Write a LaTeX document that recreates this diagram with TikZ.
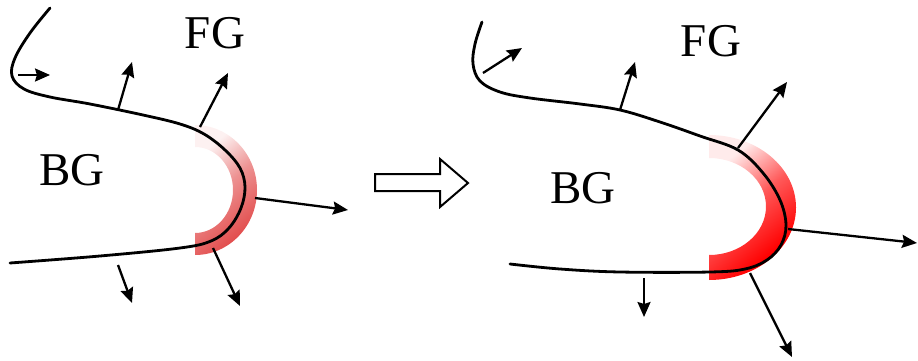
\documentclass[tikz,border=0pt]{standalone}
\usepackage{fontspec}
\setmainfont{Liberation Serif}
\usetikzlibrary{arrows.meta}
\definecolor{leftred}{RGB}{226,78,78}
\definecolor{rightred}{RGB}{255,0,0}
\pgfdeclareverticalshading{lband}{100bp}{color(0bp)=(leftred); color(28bp)=(leftred); color(52bp)=(leftred!62); color(72bp)=(leftred!8); color(100bp)=(leftred!8)}
\pgfdeclareverticalshading{rband}{100bp}{color(0bp)=(rightred); color(30bp)=(rightred); color(52bp)=(rightred!65); color(72bp)=(rightred!8); color(100bp)=(rightred!8)}
\tikzset{
  curve/.style={line width=2.8pt, line cap=round},
  vec/.style={line width=2.3pt, -{Stealth[length=15pt,width=13pt,inset=2pt]}},
  lbl/.style={font=\fontsize{47}{50}\selectfont, inner sep=0pt},
  hollow/.style={line width=2pt, fill=white, line join=miter}
}
\begin{document}
\begin{tikzpicture}[x=1pt,y=-1pt]
\useasboundingbox (0,0) rectangle (918,361);
% ---------- left ----------
\shade[shading=lband, shading angle=40]
  (195,125) arc[start angle=-90, end angle=90, x radius=62, y radius=65]
  -- (195,233) arc[start angle=90, end angle=-90, x radius=38, y radius=43] -- cycle;
\draw[curve] plot[smooth, tension=0.6] coordinates {(50,8) (30,33) (15,58) (12,76) (24,89) (50,97) (90,104) (143,115) (180,124) (204,134) (225,150) (240,168) (245,187) (241,208) (229,228) (211,241) (180,248) (100,256) (10,263)};
\coordinate (a1s) at (18,75);  \coordinate (a1e) at (50,75);
\coordinate (a2s) at (118,110); \coordinate (a2e) at (132,62);
\coordinate (a3s) at (200,127); \coordinate (a3e) at (228,73);
\coordinate (a4s) at (255,198); \coordinate (a4e) at (348,210);
\coordinate (a5s) at (118,265); \coordinate (a5e) at (132,303);
\coordinate (a6s) at (213,248); \coordinate (a6e) at (240,306);
\foreach \i in {1,...,6} \draw[vec] (a\i s) -- (a\i e);
\node[lbl] (fgl) at (215,33) {FG};
\node[lbl] (bgl) at (72,170) {BG};
% ---------- middle arrow ----------
\draw[hollow] (375,174) -- (440,174) -- (440,159) -- (468,183) -- (440,207) -- (440,191) -- (375,191) -- cycle;
% ---------- right ----------
\shade[shading=rband, shading angle=40]
  (709,135) arc[start angle=-90, end angle=90, x radius=87, y radius=72.5]
  -- (709,255) arc[start angle=90, end angle=-90, x radius=57, y radius=48.5] -- cycle;
\draw[curve] plot[smooth, tension=0.6] coordinates {(482,22) (475,44) (473,64) (480,81) (500,92) (530,98) (580,104) (620,110) (660,122) (700,136) (738,150) (763,173) (780,200) (786,225) (781,245) (767,260) (745,269) (710,272) (620,272) (560,269) (510,264)};
\coordinate (b1s) at (483,73);  \coordinate (b1e) at (522,48);
\coordinate (b2s) at (620,110); \coordinate (b2e) at (635,62);
\coordinate (b3s) at (738,148); \coordinate (b3e) at (787,82);
\coordinate (b4s) at (788,229); \coordinate (b4e) at (917,243);
\coordinate (b5s) at (644,278); \coordinate (b5e) at (644,317);
\coordinate (b6s) at (750,273); \coordinate (b6e) at (792,357);
\foreach \i in {1,...,6} \draw[vec] (b\i s) -- (b\i e);
\node[lbl] (fgr) at (711,41) {FG};
\node[lbl] (bgr) at (583,188) {BG};
\end{tikzpicture}
\end{document}
